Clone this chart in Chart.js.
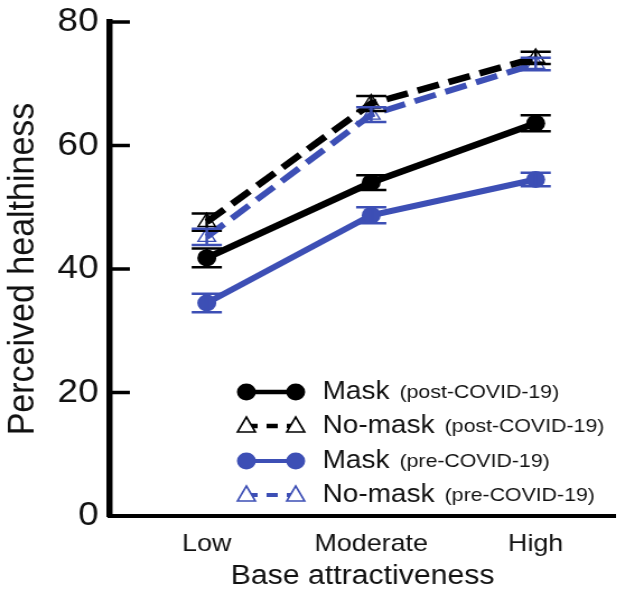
<!DOCTYPE html>
<html>
<head>
<meta charset="utf-8">
<script src="https://cdn.jsdelivr.net/npm/chart.js@4"></script>
<style>
  html, body { margin: 0; padding: 0; background: #fff; overflow: hidden; }
  /* the source figure is a little stretched sideways, so the drawing is too */
  #wrap { width: 560px; height: 593px; transform: scaleX(1.12); transform-origin: 0 0; }
</style>
</head>
<body>
<div id="wrap"><canvas id="chart" width="560" height="593"></canvas></div>
<script>
// categories and values
const categories = ['Low', 'Moderate', 'High'];
const maskPost = [41.8, 54.0, 63.6];
const maskPostErr = [1.5, 1.2, 1.3];
const noMaskPost = [47.6, 66.8, 74.2];
const noMaskPostErr = [1.4, 1.2, 1.0];
const maskPre = [34.5, 48.7, 54.5];
const maskPreErr = [1.5, 1.3, 1.1];
const noMaskPre = [45.2, 65.0, 73.2];
const noMaskPreErr = [1.3, 1.2, 1.0];
const yTicks = [0, 20, 40, 60, 80];

const BLUE = '#3d4fb5';
const FONT = '"Liberation Sans", Arial, sans-serif';

function pts(arr) {
  return arr.map((v, i) => ({ x: i, y: v }));
}

const datasets = [
  { label: 'Mask', note: '(post-COVID-19)', data: pts(maskPost), err: maskPostErr,
    borderColor: '#000', backgroundColor: '#000', borderWidth: 6.5,
    pointStyle: 'circle', pointRadius: 8.5, pointBorderWidth: 0 },
  { label: 'No-mask', note: '(post-COVID-19)', data: pts(noMaskPost), err: noMaskPostErr,
    borderColor: '#000', backgroundColor: 'rgba(255,255,255,0)', borderWidth: 6.5,
    borderDash: [20, 9], pointStyle: 'triangle', pointRadius: 9,
    pointBorderWidth: 1.4, pointBorderColor: '#000' },
  { label: 'Mask', note: '(pre-COVID-19)', data: pts(maskPre), err: maskPreErr,
    borderColor: BLUE, backgroundColor: BLUE, borderWidth: 6,
    pointStyle: 'circle', pointRadius: 8.5, pointBorderWidth: 0 },
  { label: 'No-mask', note: '(pre-COVID-19)', data: pts(noMaskPre), err: noMaskPreErr,
    borderColor: BLUE, backgroundColor: 'rgba(255,255,255,0)', borderWidth: 6,
    borderDash: [20, 9], pointStyle: 'triangle', pointRadius: 9,
    pointBorderWidth: 1.4, pointBorderColor: BLUE }
];

// error bars drawn from the scales
const errorBars = {
  id: 'errorBars',
  afterDatasetsDraw(chart) {
    const ctx = chart.ctx;
    const ys = chart.scales.y;
    chart.data.datasets.forEach((ds, di) => {
      const meta = chart.getDatasetMeta(di);
      ctx.save();
      ctx.strokeStyle = ds.borderColor;
      ctx.lineWidth = 2.5;
      meta.data.forEach((p, i) => {
        const v = ds.data[i].y, e = ds.err[i];
        const y1 = ys.getPixelForValue(v + e), y2 = ys.getPixelForValue(v - e);
        const x = p.x, w = 13.5;
        ctx.beginPath();
        ctx.moveTo(x, y1); ctx.lineTo(x, y2);
        ctx.moveTo(x - w, y1); ctx.lineTo(x + w, y1);
        ctx.moveTo(x - w, y2); ctx.lineTo(x + w, y2);
        ctx.stroke();
      });
      ctx.restore();
    });
  }
};

// inward ticks on the y axis
const innerTicks = {
  id: 'innerTicks',
  afterDraw(chart) {
    const ctx = chart.ctx;
    const ys = chart.scales.y;
    const left = chart.chartArea.left;
    ctx.save();
    ctx.strokeStyle = '#000';
    ctx.lineWidth = 3.5;
    yTicks.slice(1).forEach(t => {
      const y = ys.getPixelForValue(t);
      ctx.beginPath();
      ctx.moveTo(left, y); ctx.lineTo(left + 18, y);
      ctx.stroke();
    });
    ctx.restore();
  }
};

// legend drawn inside the plot
const insideLegend = {
  id: 'insideLegend',
  afterDraw(chart) {
    const ctx = chart.ctx;
    const rows = [392, 426, 461, 495];
    const x1 = 220, x2 = 264, tx = 288;
    ctx.save();
    chart.data.datasets.forEach((ds, i) => {
      const y = rows[i];
      ctx.strokeStyle = ds.borderColor;
      ctx.lineWidth = ds.borderWidth - 2;
      ctx.setLineDash(ds.borderDash ? [10, 8] : []);
      ctx.beginPath();
      ctx.moveTo(x1, y); ctx.lineTo(x2, y);
      ctx.stroke();
      ctx.setLineDash([]);
      [x1, x2].forEach(x => {
        if (ds.pointStyle === 'circle') {
          ctx.fillStyle = ds.backgroundColor;
          ctx.beginPath();
          ctx.arc(x, y, 8.5, 0, Math.PI * 2);
          ctx.fill();
        } else {
          ctx.fillStyle = '#fff';
          ctx.strokeStyle = ds.pointBorderColor;
          ctx.lineWidth = 1.6;
          ctx.beginPath();
          ctx.moveTo(x, y - 9); ctx.lineTo(x + 8, y + 6); ctx.lineTo(x - 8, y + 6);
          ctx.closePath();
          ctx.fill(); ctx.stroke();
          ctx.strokeStyle = ds.borderColor;
        }
      });
      ctx.fillStyle = '#111';
      ctx.textBaseline = 'middle';
      ctx.textAlign = 'left';
      ctx.font = '25px ' + FONT;
      ctx.fillText(ds.label, tx, y);
      const w = ctx.measureText(ds.label).width;
      ctx.font = '19px ' + FONT;
      ctx.fillText(ds.note, tx + w + 9, y + 1);
    });
    ctx.restore();
  }
};

new Chart(document.getElementById('chart'), {
  type: 'line',
  data: { datasets: datasets },
  plugins: [errorBars, innerTicks, insideLegend],
  options: {
    responsive: false,
    animation: false,
    layout: { padding: { top: 0, right: 6, left: 0, bottom: 0 } },
    plugins: { legend: { display: false }, tooltip: { enabled: false } },
    scales: {
      x: {
        type: 'linear',
        min: -0.59, max: 2.486,
        afterBuildTicks: s => { s.ticks = categories.map((c, i) => ({ value: i })); },
        ticks: {
          callback: v => categories[v],
          color: '#111', font: { family: FONT, size: 24 }, padding: 14
        },
        grid: { display: false, drawTicks: false },
        border: { display: true, width: 4, color: '#000' },
        title: { display: true, text: 'Base attractiveness', color: '#111',
                 font: { family: FONT, size: 27 }, padding: { top: 3, bottom: 0 } },
        afterFit: s => { s.height = 77; s.paddingLeft = 0; s.paddingRight = 0; }
      },
      y: {
        min: 0, max: 80,
        afterBuildTicks: s => { s.ticks = yTicks.map(v => ({ value: v })); },
        ticks: { color: '#111', font: { family: FONT, size: 33 }, padding: 10 },
        grid: { display: false, drawTicks: false },
        border: { display: true, width: 5.5, color: '#000' },
        title: { display: true, text: 'Perceived healthiness', color: '#111',
                 font: { family: FONT, size: 34 }, padding: { top: 0, bottom: 0 } },
        afterFit: s => { s.width = 98; s.paddingTop = 22; s.paddingBottom = 0; }
      }
    }
  }
});
</script>
</body>
</html>
